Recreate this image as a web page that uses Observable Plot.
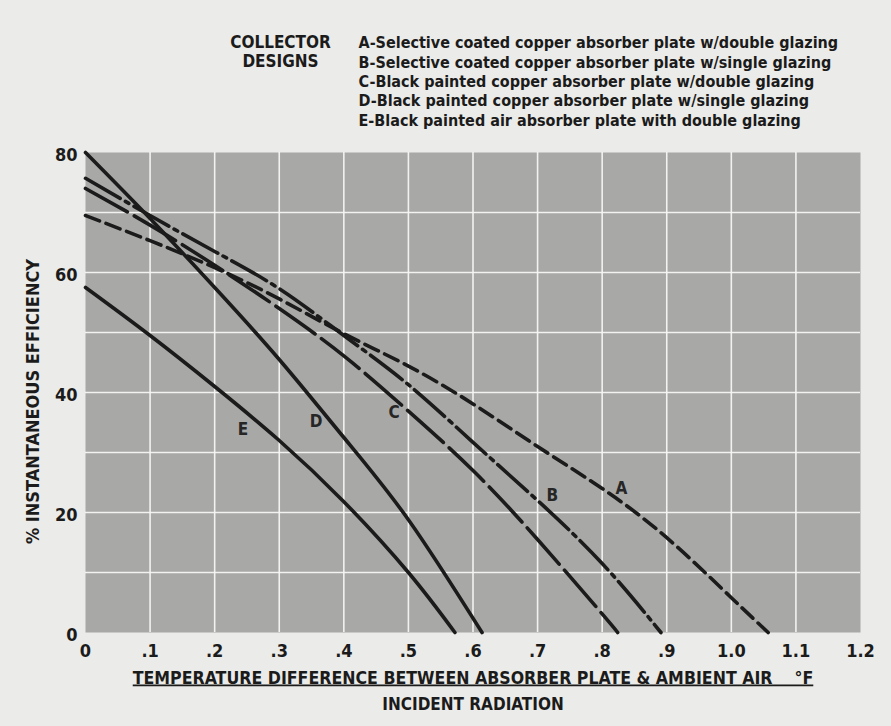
<!DOCTYPE html>
<html>
<head>
<meta charset="utf-8">
<script src="https://cdn.jsdelivr.net/npm/d3@7"></script>
<script src="https://cdn.jsdelivr.net/npm/@observablehq/plot@0.6"></script>
<style>
  html, body { margin: 0; padding: 0; background: #ebebe9; }
  #chart { width: 891px; height: 726px; }
  #chart svg { font-weight: 700; font-stretch: condensed; }
</style>
</head>
<body>
<div id="chart"></div>
<script>
// ---- data ----
const legendTitle = ["COLLECTOR", "DESIGNS"];
const legendLines = [
  "A-Selective coated copper absorber plate w/double glazing",
  "B-Selective coated copper absorber plate w/single glazing",
  "C-Black painted copper absorber plate w/double glazing",
  "D-Black painted copper absorber plate w/single glazing",
  "E-Black painted air absorber plate with double glazing"
];
const xTitle = "TEMPERATURE DIFFERENCE BETWEEN ABSORBER PLATE & AMBIENT AIR    \u00B0F";
const xTitle2 = "INCIDENT RADIATION";
const yTitle = "% INSTANTANEOUS EFFICIENCY";

const xTicks = [0, 0.1, 0.2, 0.3, 0.4, 0.5, 0.6, 0.7, 0.8, 0.9, 1.0, 1.1, 1.2];
const xTickLabels = ["0", ".1", ".2", ".3", ".4", ".5", ".6", ".7", ".8", ".9", "1.0", "1.1", "1.2"];
const yTicks = [0, 20, 40, 60, 80];
const xGrid = [0.1, 0.2, 0.3, 0.4, 0.5, 0.6, 0.7, 0.8, 0.9, 1.0, 1.1];
const yGrid = [10, 20, 30, 40, 50, 60, 70];

const xA = [0, 0.1, 0.2, 0.3, 0.4, 0.5, 0.6, 0.7, 0.8, 0.9, 1.0, 1.057];
const yA = [69.5, 65.3, 60.8, 55.6, 49.8, 44.4, 38.1, 31, 24, 15.8, 5.8, 0];
const xB = [0, 0.1, 0.2, 0.3, 0.4, 0.5, 0.6, 0.7, 0.8, 0.891];
const yB = [75.7, 69.5, 63.5, 57.3, 49.5, 41.3, 31.7, 22, 11.5, 0];
const xC = [0, 0.1, 0.2, 0.3, 0.4, 0.5, 0.6, 0.7, 0.8, 0.824];
const yC = [74, 67.9, 61.2, 54, 46.1, 36.9, 27, 15.5, 3.1, 0];
const xD = [0, 0.1, 0.2, 0.3, 0.4, 0.5, 0.614];
const yD = [80, 69, 57.5, 45.5, 32.5, 18.8, 0];
const xE = [0, 0.1, 0.2, 0.3, 0.4, 0.5, 0.572];
const yE = [57.5, 49.5, 41, 32, 21.8, 10, 0];

const curveNames = ["A", "B", "C", "D", "E"];
const curveLabelX = [0.83, 0.723, 0.478, 0.357, 0.244];
const curveLabelY = [24, 22.8, 36.6, 35.2, 33.8];

// ---- build tables ----
const series = (xs, ys) => xs.map((x, i) => ({x, y: ys[i]}));
const labels = curveNames.map((t, i) => ({t, x: curveLabelX[i], y: curveLabelY[i]}));

const ink = "#1b1b1b";
const lw = 3.6;
const font = "'Liberation Sans Narrow', 'DejaVu Sans Condensed', 'Roboto Condensed', 'Liberation Sans', sans-serif";

const chart = Plot.plot({
  width: 891,
  height: 726,
  marginTop: 152,
  marginLeft: 85,
  marginRight: 31,
  marginBottom: 94,
  style: {fontFamily: font, fontSize: "18px", background: "transparent", color: ink},
  x: {domain: [0, 1.2]},
  y: {domain: [0, 80]},
  marks: [
    Plot.frame({fill: "#a8a8a6", stroke: "none"}),
    Plot.gridX(xGrid, {stroke: "#f6f6f4", strokeOpacity: 0.95, strokeWidth: 1.6}),
    Plot.gridY(yGrid, {stroke: "#f6f6f4", strokeOpacity: 0.95, strokeWidth: 1.6}),
    Plot.line(series(xA, yA), {x: "x", y: "y", curve: "natural", stroke: ink, strokeWidth: lw, strokeDasharray: "15,7"}),
    Plot.line(series(xB, yB), {x: "x", y: "y", curve: "natural", stroke: ink, strokeWidth: lw, strokeDasharray: "40,6,4,6"}),
    Plot.line(series(xC, yC), {x: "x", y: "y", curve: "natural", stroke: ink, strokeWidth: lw, strokeDasharray: "48,8"}),
    Plot.line(series(xD, yD), {x: "x", y: "y", curve: "natural", stroke: ink, strokeWidth: lw}),
    Plot.line(series(xE, yE), {x: "x", y: "y", curve: "natural", stroke: ink, strokeWidth: lw}),
    Plot.text(labels, {x: "x", y: "y", text: "t", fontSize: 17, fill: "#262626"}),
    Plot.axisX(xTicks, {tickSize: 0, tickPadding: 12, fontSize: 18, label: null,
      tickFormat: d => xTickLabels[xTicks.indexOf(d)]}),
    Plot.axisY(yTicks, {tickSize: 0, tickPadding: 8, fontSize: 18, label: null, dy: 3}),
    Plot.text([yTitle], {frameAnchor: "left", textAnchor: "middle", rotate: -90, dx: -52, dy: 9, fontSize: 18}),
    Plot.text([xTitle], {frameAnchor: "bottom", textAnchor: "middle", dy: 51, fontSize: 17.6}),
    Plot.text([xTitle2], {frameAnchor: "bottom", textAnchor: "middle", dy: 77, fontSize: 17}),
    Plot.text([legendTitle.join("\n")], {frameAnchor: "top-left", dx: 195, dy: -118, textAnchor: "middle", lineAnchor: "top", lineHeight: 1.12, fontSize: 17}),
    Plot.text([legendLines.join("\n")], {frameAnchor: "top-left", dx: 273, dy: -118, textAnchor: "start", lineAnchor: "top", lineHeight: 1.21, fontSize: 16})
  ]
});

d3.select(chart).selectAll("text")
  .filter(function () { return this.textContent === xTitle; })
  .style("text-decoration", "underline")
  .style("white-space", "pre");

document.getElementById("chart").appendChild(chart);
</script>
</body>
</html>
